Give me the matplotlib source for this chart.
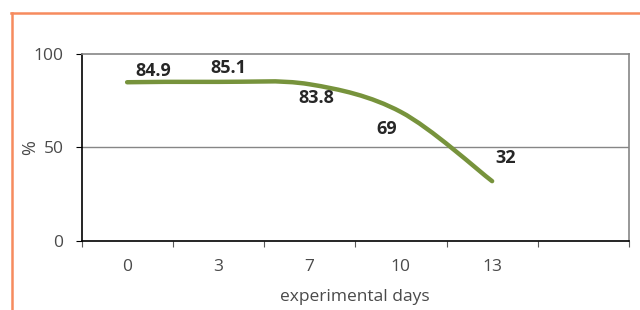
import numpy as np
import matplotlib
matplotlib.use("Agg")
import matplotlib.pyplot as plt
from matplotlib.path import Path
from matplotlib.patches import PathPatch
from matplotlib.lines import Line2D

plt.rcParams['font.family'] = ['Open Sans', 'DejaVu Sans']

days = ["0", "3", "7", "10", "13", ""]
survival = [84.9, 85.1, 83.8, 69, 32]
value_labels = ["84.9", "85.1", "83.8", "69", "32"]
# label offsets in points from each point
label_offsets = [(19, 8), (7, 10), (5, -10), (-10, -12), (10, 17)]

fig = plt.figure(figsize=(6.4, 3.1), dpi=100)
ax = fig.add_axes([81.5 / 640, 69 / 310, (629 - 81.5) / 640, 187 / 310])

# smooth line like excel (catmull-rom as bezier)
x = np.arange(len(survival), dtype=float)
y = np.array(survival, dtype=float)
px = np.concatenate([[x[0]], x, [x[-1]]])
py = np.concatenate([[y[0]], y, [y[-1]]])
verts = [(x[0], y[0])]
codes = [Path.MOVETO]
for i in range(1, len(px) - 2):
    c1 = (px[i] + (px[i + 1] - px[i - 1]) / 6, py[i] + (py[i + 1] - py[i - 1]) / 6)
    c2 = (px[i + 1] - (px[i + 2] - px[i]) / 6, py[i + 1] - (py[i + 2] - py[i]) / 6)
    verts += [c1, c2, (px[i + 1], py[i + 1])]
    codes += [Path.CURVE4] * 3
ax.add_patch(PathPatch(Path(verts, codes), facecolor='none', edgecolor='#77933C',
                       linewidth=3.2, capstyle='round', zorder=3))

for xi, yi, lab, off in zip(x, y, value_labels, label_offsets):
    ax.annotate(lab, (xi, yi), xytext=off, textcoords='offset points',
                ha='center', va='center', fontsize=13, fontweight='bold', color='#262626')

ax.set_xlim(-0.5, len(days) - 0.5)
ax.set_ylim(0, 100)
ax.set_yticks([0, 50, 100])
ax.axhline(50, color='#868686', linewidth=1, zorder=1)

ax.set_xticks(np.arange(-0.5, len(days)))
ax.set_xticklabels([])
ax.set_xticks(np.arange(len(days)), minor=True)
ax.set_xticklabels(days, minor=True)
ax.tick_params(axis='x', which='major', length=4, width=0.8, color='#595959')
ax.tick_params(axis='x', which='minor', length=0, pad=13, labelsize=12.5, labelcolor='#4a4a4a')
ax.tick_params(axis='y', length=4, width=0.8, pad=9, labelsize=12.5, labelcolor='#4a4a4a')

for s in ['left', 'bottom']:
    ax.spines[s].set_color('black')
    ax.spines[s].set_linewidth(1.2)
for s in ['top', 'right']:
    ax.spines[s].set_color('#868686')
    ax.spines[s].set_linewidth(1.2)

ax.set_ylabel('%', fontsize=13, color='#4a4a4a')
ax.yaxis.set_label_coords(-0.094, 0.5)
ax.yaxis.label.set_va('center')
ax.set_xlabel('experimental days', fontsize=12.5, color='#4a4a4a')
ax.xaxis.set_label_coords(0.5, -0.30)
ax.xaxis.label.set_va('center')

# orange frame
orange = '#F68B5E'
fig.add_artist(Line2D([12 / 640, 12 / 640], [0, 1 - 12.5 / 310], transform=fig.transFigure,
                      color=orange, linewidth=1.8))
fig.add_artist(Line2D([11 / 640, 1], [1 - 12.5 / 310, 1 - 12.5 / 310], transform=fig.transFigure,
                      color=orange, linewidth=1.8))

fig.savefig('out.png', dpi=100)
